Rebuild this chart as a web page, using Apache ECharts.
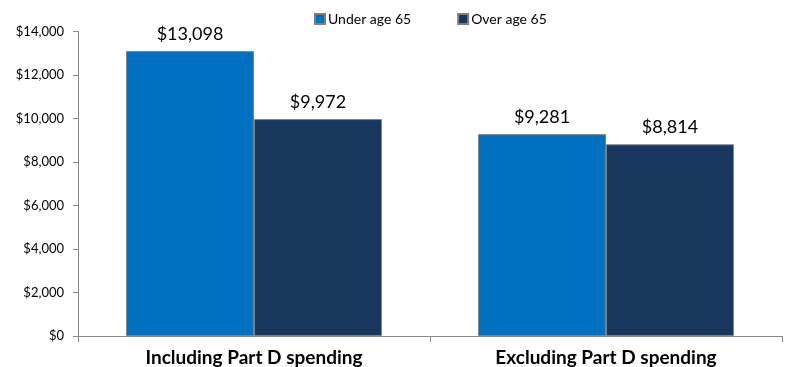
<!DOCTYPE html>
<html><head><meta charset="utf-8">
<script src="https://cdn.jsdelivr.net/npm/echarts@6/dist/echarts.min.js"></script>
<style>html,body{margin:0;padding:0;background:#fff}#c{width:787px;height:367px}</style>
</head><body><div id="c"></div>
<script>
const categories = ['Including Part D spending', 'Excluding Part D spending'];
const seriesNames = ['Under age 65', 'Over age 65'];
const underAge65 = [13098, 9281];
const overAge65 = [9972, 8814];
const yTicks = [0, 2000, 4000, 6000, 8000, 10000, 12000, 14000];

const fmt = v => '$' + Number(v).toLocaleString('en-US');
const font = 'Lato, "Open Sans", sans-serif';
const chart = echarts.init(document.getElementById('c'));
chart.setOption({
  animation: false,
  legend: {
    top: 7, left: 309, itemWidth: 10, itemHeight: 10, itemGap: 46,
    icon: 'rect',
    textStyle: { fontFamily: font, fontSize: 14, color: '#000', padding: [0, 0, 0, -2] },
    data: seriesNames
  },
  grid: { left: 78, right: 5, top: 31.5, bottom: 31, containLabel: false, outerBoundsMode: 'none' },
  xAxis: {
    type: 'category', data: categories,
    axisLine: { lineStyle: { color: '#888' } },
    axisTick: { show: true, length: 6, lineStyle: { color: '#888' } },
    axisLabel: { fontFamily: font, fontSize: 19, fontWeight: 'bold', color: '#000', margin: 12 }
  },
  yAxis: {
    type: 'value', min: yTicks[0], max: yTicks[yTicks.length - 1], interval: 2000,
    axisLine: { show: true, lineStyle: { color: '#888' } },
    axisTick: { show: true, length: 5, lineStyle: { color: '#888' } },
    splitLine: { show: false },
    axisLabel: { fontFamily: font, fontSize: 13, color: '#000', margin: 14, formatter: fmt }
  },
  series: [
    { name: seriesNames[0], type: 'bar', data: underAge65, barGap: '0%', barCategoryGap: '27.3%',
      itemStyle: { color: '#0070C0', borderColor: '#7f7f7f', borderWidth: 1 },
      label: { show: true, position: 'top', distance: 8, fontFamily: font, fontSize: 18, color: '#000', formatter: p => fmt(p.value) } },
    { name: seriesNames[1], type: 'bar', data: overAge65,
      itemStyle: { color: '#17375E', borderColor: '#7f7f7f', borderWidth: 1 },
      label: { show: true, position: 'top', distance: 8, fontFamily: font, fontSize: 18, color: '#000', formatter: p => fmt(p.value) } }
  ]
});
</script></body></html>
